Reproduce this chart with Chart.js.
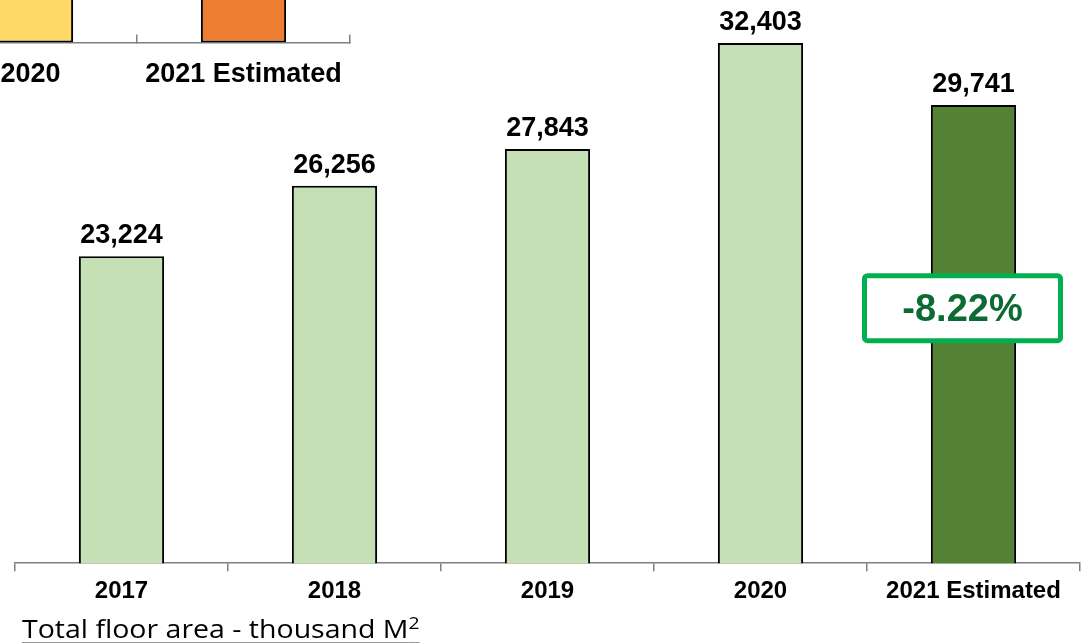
<!DOCTYPE html>
<html>
<head>
<meta charset="utf-8">
<script src="https://cdn.jsdelivr.net/npm/chart.js@4.4.0/dist/chart.umd.min.js"></script>
<style>
    body { margin: 0; width: 1084px; height: 643px; overflow: hidden; background: #fff; position: relative; }
    #mainWrap { position: absolute; left: 0; top: 0; width: 1084px; height: 643px; }
    #topWrap { position: absolute; left: -100px; top: -175px; width: 480px; height: 300px; }
    #titre {
        position: absolute; left: 22px; top: 614px; margin: 0;
        font-family: 'Open Sans', sans-serif; font-size: 25px; line-height: 28px;
        color: #000; text-decoration: underline; text-decoration-thickness: 1px; text-underline-offset: 4px;
        text-decoration-color: #999; white-space: nowrap;
        transform: scaleX(1.14); transform-origin: left center;
    }
    #titre sup { font-size: 17px; line-height: 0; }
</style>
</head>
<body>
<div id="topWrap"><canvas id="topChart"></canvas></div>
<div id="mainWrap"><canvas id="mainChart"></canvas></div>
<p id="titre">Total floor area - thousand M<sup>2</sup></p>

<script>
// Données du graphique principal
const annees = ['2017', '2018', '2019', '2020', '2021 Estimated'];
const valeurs = [23224, 26256, 27843, 32403, 29741];
const couleursBarres = ['#C5E0B4', '#C5E0B4', '#C5E0B4', '#C5E0B4', '#548235'];

// Bas du graphique voisin (coupé en haut à gauche)
const anneesHaut = ['2020', '2021 Estimated'];
const valeursHaut = [100, 100];
const couleursHaut = ['#FFD966', '#ED7D31'];

const gris = '#7F7F7F';
const policeGras = '"Liberation Sans", Arial, sans-serif';

// Étiquettes des valeurs au-dessus des barres
const etiquettes = {
    id: 'etiquettes',
    afterDatasetsDraw(chart) {
        const ctx = chart.ctx;
        const meta = chart.getDatasetMeta(0);
        ctx.save();
        ctx.font = 'bold 27px ' + policeGras;
        ctx.textAlign = 'center';
        ctx.textBaseline = 'alphabetic';
        ctx.fillStyle = '#000';
        meta.data.forEach((bar, i) => {
            ctx.fillText(valeurs[i].toLocaleString('en-US'), bar.x, bar.y - 13);
        });
        ctx.restore();
    }
};

// Encadré de la variation 2020 -> 2021
const encadre = {
    id: 'encadre',
    afterDatasetsDraw(chart) {
        const ctx = chart.ctx;
        const n = valeurs.length;
        const bar = chart.getDatasetMeta(0).data[n - 1];
        const variation = (valeurs[n - 1] - valeurs[n - 2]) / valeurs[n - 2] * 100;
        const cx = bar.x - 11;
        const cy = chart.scales.y.getPixelForValue(20984);
        const w = 196, h = 65;
        ctx.save();
        ctx.beginPath();
        ctx.roundRect(cx - w / 2, cy - h / 2, w, h, 3);
        ctx.fillStyle = '#fff';
        ctx.fill();
        ctx.lineWidth = 5;
        ctx.strokeStyle = '#00B050';
        ctx.stroke();
        ctx.font = 'bold 38px ' + policeGras;
        ctx.textAlign = 'center';
        ctx.textBaseline = 'middle';
        ctx.fillStyle = '#0B6B33';
        ctx.fillText(variation.toFixed(2) + '%', cx, cy + 2);
        ctx.restore();
    }
};

document.addEventListener('DOMContentLoaded', function() {
    // Graphique principal
    const mainCtx = document.getElementById('mainChart').getContext('2d');
    new Chart(mainCtx, {
        type: 'bar',
        data: {
            labels: annees,
            datasets: [{
                data: valeurs,
                backgroundColor: couleursBarres,
                borderColor: '#000',
                borderWidth: 2,
                borderSkipped: false,
                barPercentage: 0.4,
                categoryPercentage: 1
            }]
        },
        options: {
            responsive: true,
            maintainAspectRatio: false,
            animation: false,
            layout: { padding: { left: 15, right: 4, top: 6, bottom: 31 } },
            plugins: {
                legend: { display: false },
                tooltip: { enabled: false }
            },
            scales: {
                x: {
                    grid: { drawOnChartArea: false, offset: true, tickLength: 8, color: gris, lineWidth: 1.5 },
                    border: { color: gris, width: 1.5 },
                    ticks: { color: '#000', padding: 6, font: { family: policeGras, weight: 'bold', size: 24 } }
                },
                y: { display: false, min: 10000, max: 34000 }
            }
        },
        plugins: [etiquettes, encadre]
    });

    // Graphique voisin coupé
    const topCtx = document.getElementById('topChart').getContext('2d');
    new Chart(topCtx, {
        type: 'bar',
        data: {
            labels: anneesHaut,
            datasets: [{
                data: valeursHaut,
                backgroundColor: couleursHaut,
                borderColor: '#000',
                borderWidth: 2,
                borderSkipped: false,
                barPercentage: 0.4,
                categoryPercentage: 1
            }]
        },
        options: {
            responsive: true,
            maintainAspectRatio: false,
            animation: false,
            layout: { padding: { left: 24, right: 30, top: 0, bottom: 10 } },
            plugins: {
                legend: { display: false },
                tooltip: { enabled: false }
            },
            scales: {
                x: {
                    grid: { drawOnChartArea: false, offset: true, tickLength: -8, color: gris, lineWidth: 1.5 },
                    border: { color: gris, width: 1.5 },
                    ticks: { color: '#000', padding: 24, font: { family: policeGras, weight: 'bold', size: 27 } }
                },
                y: { display: false, min: 0, max: 100 }
            }
        }
    });
});
</script>
</body>
</html>
